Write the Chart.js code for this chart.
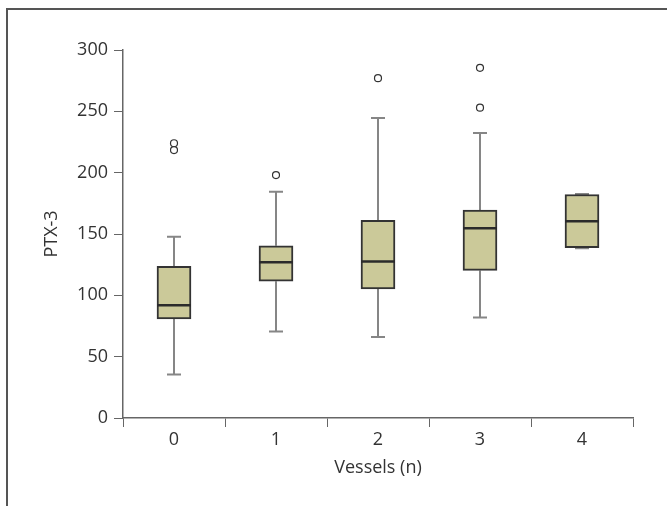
<!DOCTYPE html>
<html>
<head>
<meta charset="utf-8">
<script src="https://cdn.jsdelivr.net/npm/chart.js@4/dist/chart.umd.min.js"></script>
<style>
  html, body { margin: 0; padding: 0; background: #fff; }
  canvas { display: block; }
</style>
</head>
<body>
<canvas id="c" width="667" height="506"></canvas>
<script>
// ---- data ----
const categories = ['0', '1', '2', '3', '4'];
const whiskerLow  = [35.5, 70.5, 66.0, 82.0, 138.3];
const q1          = [80.7, 111.5, 105.3, 120.3, 138.8];
const median      = [92.0, 127.0, 127.6, 154.6, 160.3];
const q3          = [123.6, 140.4, 161.2, 169.6, 182.2];
const whiskerHigh = [147.8, 184.4, 244.5, 232.3, 182.7];
const outlierCats   = ['0', '0', '1', '2', '3', '3'];
const outlierValues = [224.0, 218.4, 198.0, 277.0, 285.5, 253.0];
const yTicks = [0, 50, 100, 150, 200, 250, 300];

const FONT = 'Open Sans';

const frame = {
  id: 'frame',
  beforeDraw(chart) {
    const ctx = chart.ctx;
    ctx.save();
    ctx.strokeStyle = '#555';
    ctx.lineWidth = 2;
    ctx.strokeRect(7, 9, 700, 600);
    ctx.restore();
  }
};

const boxParts = {
  id: 'boxParts',
  beforeDatasetsDraw(chart) {
    const {ctx, scales: {x, y}} = chart;
    ctx.save();
    ctx.strokeStyle = '#868686';
    ctx.lineWidth = 2;
    const cap = 7;
    categories.forEach((c, i) => {
      const px = x.getPixelForValue(i);
      const lo = y.getPixelForValue(whiskerLow[i]);
      const hi = y.getPixelForValue(whiskerHigh[i]);
      const b1 = y.getPixelForValue(q1[i]);
      const b3 = y.getPixelForValue(q3[i]);
      ctx.beginPath();
      ctx.moveTo(px, lo); ctx.lineTo(px, b1);
      ctx.moveTo(px, b3); ctx.lineTo(px, hi);
      ctx.moveTo(px - cap, lo); ctx.lineTo(px + cap, lo);
      ctx.moveTo(px - cap, hi); ctx.lineTo(px + cap, hi);
      ctx.stroke();
    });
    ctx.restore();
  },
  afterDatasetsDraw(chart) {
    const {ctx, scales: {x, y}} = chart;
    const meta = chart.getDatasetMeta(0);
    ctx.save();
    ctx.strokeStyle = '#2b2b2b';
    ctx.lineWidth = 2.5;
    categories.forEach((c, i) => {
      const bar = meta.data[i];
      const half = bar.width / 2;
      const px = x.getPixelForValue(i);
      const m = y.getPixelForValue(median[i]);
      ctx.beginPath();
      ctx.moveTo(px - half, m); ctx.lineTo(px + half, m);
      ctx.stroke();
    });
    ctx.restore();
  }
};

new Chart(document.getElementById('c'), {
  data: {
    labels: categories,
    datasets: [
      {
        type: 'bar',
        data: categories.map((c, i) => [q1[i], q3[i]]),
        backgroundColor: '#cbc999',
        borderColor: '#333333',
        borderWidth: 2,
        borderSkipped: false,
        barThickness: 34,
        order: 2
      },
      {
        type: 'line',
        data: outlierCats.map((c, i) => ({x: c, y: outlierValues[i]})),
        showLine: false,
        pointStyle: 'circle',
        pointRadius: 3.5,
        pointBorderWidth: 1.2,
        pointBorderColor: '#333',
        pointBackgroundColor: '#fff',
        order: 1
      }
    ]
  },
  options: {
    responsive: false,
    animation: false,
    events: [],
    layout: { padding: { left: 0, top: 50, right: 34, bottom: 0 } },
    plugins: { legend: { display: false }, tooltip: { enabled: false } },
    scales: {
      x: {
        type: 'category',
        offset: true,
        grid: { offset: true, drawOnChartArea: false, drawTicks: true, tickLength: 9, color: '#666', lineWidth: 1 },
        border: { display: true, color: '#666', width: 1.5 },
        ticks: { color: '#333', font: { family: FONT, size: 18 }, padding: 2 },
        title: { display: true, text: 'Vessels (n)', color: '#333', font: { family: FONT, size: 18 }, padding: { top: 0, bottom: 27 } },
        afterFit(s) { s.height = 88; }
      },
      y: {
        min: 0, max: 300,
        afterBuildTicks(s) { s.ticks = yTicks.map(v => ({ value: v })); },
        grid: { drawOnChartArea: false, drawTicks: true, tickLength: 9, color: '#666', lineWidth: 1 },
        border: { display: true, color: '#666', width: 1.5 },
        ticks: { color: '#333', font: { family: FONT, size: 18 }, padding: 6 },
        title: { display: true, text: 'PTX-3', color: '#333', font: { family: FONT, size: 18 }, padding: { top: 41, bottom: 0 } },
        afterFit(s) { s.width = 123; }
      }
    }
  },
  plugins: [frame, boxParts]
});
</script>
</body>
</html>
